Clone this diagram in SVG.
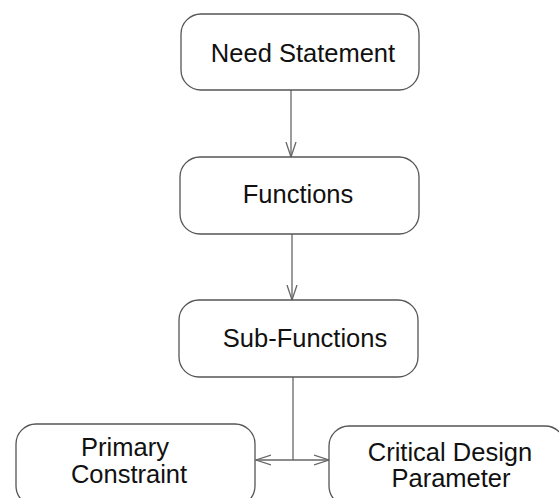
<svg xmlns="http://www.w3.org/2000/svg" width="559" height="498" viewBox="0 0 559 498">
<style>
.box{fill:#fff;stroke:#555;stroke-width:1.3}
.lbl{font-family:"Liberation Sans",Arial,sans-serif;font-size:25.5px;fill:#111;text-anchor:middle}
.con{fill:none;stroke:#666;stroke-width:1.3}
</style>
<defs>
<marker id="arr" markerUnits="userSpaceOnUse" markerWidth="20" markerHeight="14" refX="15" refY="6" orient="auto-start-reverse" viewBox="0 0 20 12">
<polyline points="0,1 15,6 0,11" fill="none" stroke="#666" stroke-width="1.3"/>
</marker>
</defs>
<rect width="559" height="498" fill="#fff"/>
<g id="connectors">
<line class="con" x1="291" y1="90" x2="291" y2="157" marker-end="url(#arr)"/>
<line class="con" x1="292" y1="234" x2="292" y2="300" marker-end="url(#arr)"/>
<line class="con" x1="293" y1="377" x2="293" y2="460"/>
<line class="con" x1="256" y1="460" x2="329" y2="460" marker-start="url(#arr)" marker-end="url(#arr)"/>
</g>
<g id="need-statement">
<rect class="box" x="181" y="14" width="238" height="76" rx="20"/>
<text class="lbl" x="303" y="62">Need Statement</text>
</g>
<g id="functions">
<rect class="box" x="180" y="157" width="239" height="77" rx="20"/>
<text class="lbl" x="298" y="203">Functions</text>
</g>
<g id="sub-functions">
<rect class="box" x="179" y="300" width="239" height="77" rx="20"/>
<text class="lbl" x="305" y="347">Sub-Functions</text>
</g>
<g id="primary-constraint">
<rect class="box" x="16" y="424" width="239" height="82" rx="20"/>
<text class="lbl" x="125" y="456">Primary</text>
<text class="lbl" x="129" y="483">Constraint</text>
</g>
<g id="critical-design-parameter">
<rect class="box" x="329" y="426" width="236" height="80" rx="20"/>
<text class="lbl" x="450" y="461">Critical Design</text>
<text class="lbl" x="451" y="487">Parameter</text>
</g>
</svg>
